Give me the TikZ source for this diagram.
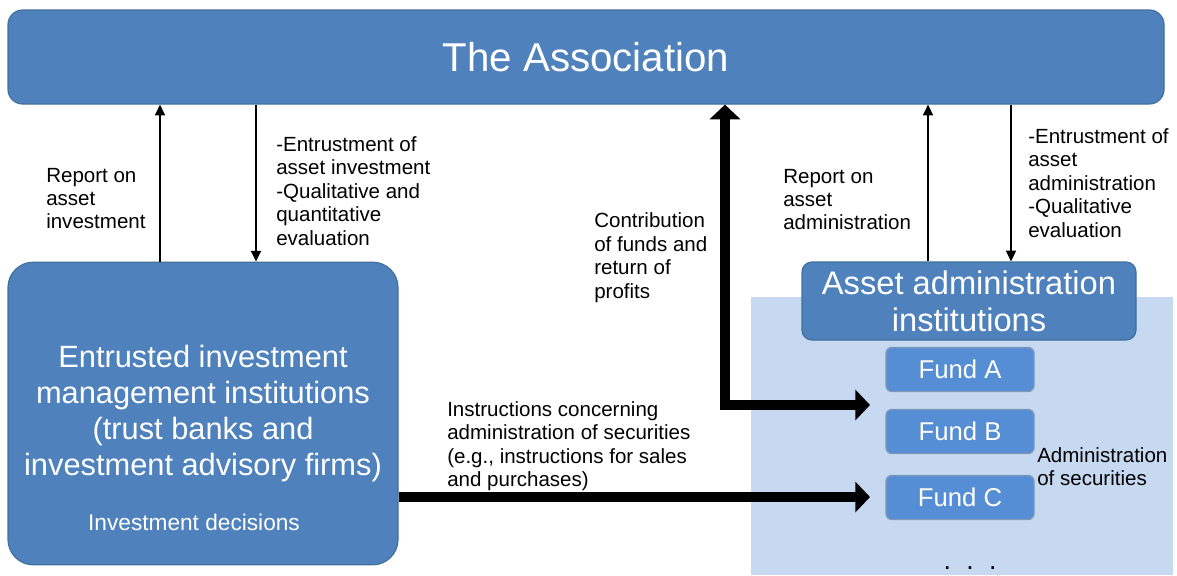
\documentclass[tikz,border=0pt]{standalone}
\usepackage{fontspec}
\setmainfont{Liberation Sans}
\usepackage{xcolor}
\usetikzlibrary{arrows.meta, positioning}

\definecolor{boxblue}{HTML}{4F81BD}
\definecolor{boxline}{HTML}{41709E}
\definecolor{fundblue}{HTML}{558ED5}
\definecolor{fundline}{HTML}{7F97B8}
\definecolor{paleblue}{HTML}{C6D9F1}

\begin{document}
\begin{tikzpicture}[x=0.75pt,y=0.75pt,yscale=-1,xscale=1,
  bigbox/.style={draw=boxline, line width=0.9pt, fill=boxblue, text=white, align=center, inner sep=0pt},
  fundbox/.style={draw=fundline, line width=1.1pt, fill=fundblue, text=white, rounded corners=4.5pt,
    minimum width=111pt, minimum height=33pt, inner sep=0pt, font=\fontsize{19.3}{22}\selectfont},
  lbl/.style={anchor=west, align=left, inner sep=0pt, font=\fontsize{15.4}{17.6}\selectfont},
  thinarrow/.style={line width=1.1pt, -{Triangle[width=7.5pt, length=8pt]}},
  fatarrow/.style={line width=7.5pt, -{Triangle[width=22.5pt, length=11pt]}}
]
\useasboundingbox (0,0) rectangle (1177,575);

% Shaded area behind the asset administration side
\fill [paleblue] (751,297) rectangle (1173,575);

% The Association
\node [bigbox, rounded corners=11pt, minimum width=867pt, minimum height=70.5pt,
  font=\fontsize{30.2}{34}\selectfont] (assoc) at (586,57) {The Association};

% Entrusted investment management institutions
\node [bigbox, rounded corners=19pt, minimum width=292.5pt, minimum height=227pt,
  font=\fontsize{23.1}{27}\selectfont] (inv) at (203,413.5)
  {Entrusted investment\\management institutions\\(trust banks and\\investment advisory firms)};
\node [text=white, inner sep=0pt, font=\fontsize{17}{20}\selectfont] (dec) at (194,522) {Investment decisions};

% Asset administration institutions
\node [bigbox, rounded corners=7.5pt, minimum width=250.5pt, minimum height=58.5pt,
  font=\fontsize{24.5}{27.8}\selectfont] (adm) at (969,301) {Asset administration\\institutions};

% Funds
\node [fundbox] (fundA) at (960,369.5) {Fund A};
\node [fundbox] (fundB) at (960,431.5) {Fund B};
\node [fundbox] (fundC) at (960,497.5) {Fund C};
\node [inner sep=0pt, font=\fontsize{20}{20}\selectfont] (dots) at (970,568) {.\hspace{11.5pt}.\hspace{11.5pt}.};

% Thin arrows between the Association and the institutions
\draw [thinarrow] ([xshift=-32.25pt]inv.north) -- ([xshift=-32.25pt]inv.north |- assoc.south);
\draw [thinarrow] ([xshift=39.75pt]inv.north |- assoc.south) -- ([xshift=39.75pt]inv.north);
\draw [thinarrow] ([xshift=-30.75pt]adm.north) -- ([xshift=-30.75pt]adm.north |- assoc.south);
\draw [thinarrow] ([xshift=31.5pt]adm.north |- assoc.south) -- ([xshift=31.5pt]adm.north);

% Funds and profits
\coordinate (bend) at (725,405);
\coordinate (tipB) at (870,405);
\draw [fatarrow, {Triangle[width=22.5pt, length=11pt]}-{Triangle[width=22.5pt, length=11pt]}, line join=miter]
  (assoc.south -| bend) -- (bend) -- (tipB);

% Instructions
\coordinate (tipC) at (870,497);
\draw [fatarrow] (inv.east |- tipC) -- (tipC);

% Text Node
\node [lbl] (repinv) at (46,198.5) {Report on\\asset\\investment};
% Text Node
\node [lbl] (entinv) at (276,191) {-Entrustment of\\asset investment\\-Qualitative and\\quantitative\\evaluation};
% Text Node
\node [lbl] (contrib) at (594,257.5) {Contribution\\of funds and\\return of\\profits};
% Text Node
\node [lbl] (repadm) at (783,199.5) {Report on\\asset\\administration};
% Text Node
\node [lbl] (entadm) at (1028,183) {-Entrustment of\\asset\\administration\\-Qualitative\\evaluation};
% Text Node
\node [lbl] (instr) at (447,446) {Instructions concerning\\administration of securities\\(e.g., instructions for sales\\and purchases)};
% Text Node
\node [lbl] (admsec) at (1037,466.5) {Administration\\of securities};

\end{tikzpicture}
\end{document}
